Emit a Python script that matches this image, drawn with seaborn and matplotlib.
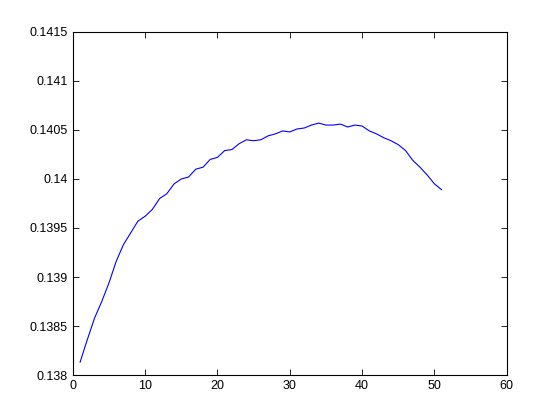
import pandas as pd
import matplotlib
matplotlib.use("Agg")
import matplotlib.pyplot as plt
import seaborn as sns

# values, one per iteration
iterations = list(range(1, 52))
values = [
    0.13813, 0.13836, 0.13858, 0.13875, 0.13894, 0.13916, 0.13933, 0.13945,
    0.13957, 0.13962, 0.13969, 0.13980, 0.13985, 0.13995, 0.14000, 0.14002,
    0.14010, 0.14012, 0.14020, 0.14022, 0.14029, 0.14030, 0.14036, 0.14040,
    0.14039, 0.14040, 0.14044, 0.14046, 0.14049, 0.14048, 0.14051, 0.14052,
    0.14055, 0.14057, 0.14055, 0.14055, 0.14056, 0.14053, 0.14055, 0.14054,
    0.14049, 0.14046, 0.14042, 0.14039, 0.14035, 0.14029, 0.14019, 0.14012,
    0.14004, 0.13995, 0.13989,
]
x_ticks = [0, 10, 20, 30, 40, 50, 60]
y_ticks = [0.138, 0.1385, 0.139, 0.1395, 0.14, 0.1405, 0.141, 0.1415]
y_labels = ["0.138", "0.1385", "0.139", "0.1395", "0.14", "0.1405", "0.141", "0.1415"]

df = pd.DataFrame({"iter": iterations, "value": values})

sns.set_style("ticks")
plt.rcParams['font.family'] = ['Liberation Sans', 'DejaVu Sans']

fig = plt.figure(figsize=(5.6, 4.2), dpi=100)
ax = fig.add_axes([0.13, 0.107, 0.775, 0.817])
sns.lineplot(data=df, x="iter", y="value", color="#0000ff", linewidth=0.8, ax=ax)

ax.set_xlim(0, 60)
ax.set_ylim(0.138, 0.1415)
ax.set_xticks(x_ticks)
ax.set_yticks(y_ticks)
ax.set_yticklabels(y_labels)
ax.set_xlabel("")
ax.set_ylabel("")
ax.tick_params(direction="in", length=4, width=0.6, labelsize=9,
               top=True, right=True, colors="black")
for s in ax.spines.values():
    s.set_visible(True)
    s.set_linewidth(0.8)
    s.set_color("black")

fig.savefig("out.png", dpi=100, facecolor="white")
